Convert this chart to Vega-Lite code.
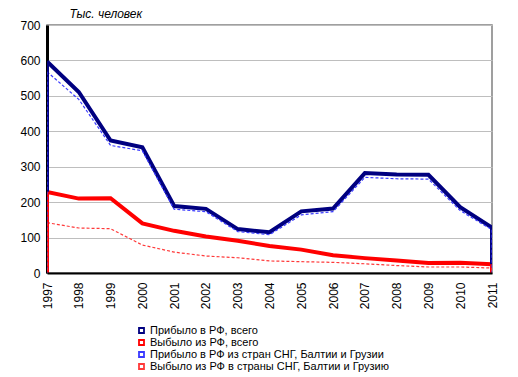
{
  "$schema": "https://vega.github.io/schema/vega-lite/v6.json",
  "autosize": "none",
  "width": 445,
  "height": 248,
  "padding": {"left": 47, "top": 25, "right": 26, "bottom": 104},
  "background": "white",
  "config": {
    "font": "Liberation Sans",
    "view": {"stroke": "#808080", "strokeWidth": 1.5}
  },
  "data": {
    "values": [
      {"year": 1997, "series": "Прибыло в РФ, всего", "value": 597},
      {"year": 1998, "series": "Прибыло в РФ, всего", "value": 511},
      {"year": 1999, "series": "Прибыло в РФ, всего", "value": 374},
      {"year": 2000, "series": "Прибыло в РФ, всего", "value": 355},
      {"year": 2001, "series": "Прибыло в РФ, всего", "value": 189},
      {"year": 2002, "series": "Прибыло в РФ, всего", "value": 181},
      {"year": 2003, "series": "Прибыло в РФ, всего", "value": 124},
      {"year": 2004, "series": "Прибыло в РФ, всего", "value": 115},
      {"year": 2005, "series": "Прибыло в РФ, всего", "value": 174},
      {"year": 2006, "series": "Прибыло в РФ, всего", "value": 182},
      {"year": 2007, "series": "Прибыло в РФ, всего", "value": 282},
      {"year": 2008, "series": "Прибыло в РФ, всего", "value": 278},
      {"year": 2009, "series": "Прибыло в РФ, всего", "value": 277},
      {"year": 2010, "series": "Прибыло в РФ, всего", "value": 186},
      {"year": 2011, "series": "Прибыло в РФ, всего", "value": 128},
      {"year": 1997, "series": "Выбыло из РФ, всего", "value": 229},
      {"year": 1998, "series": "Выбыло из РФ, всего", "value": 210},
      {"year": 1999, "series": "Выбыло из РФ, всего", "value": 211},
      {"year": 2000, "series": "Выбыло из РФ, всего", "value": 140},
      {"year": 2001, "series": "Выбыло из РФ, всего", "value": 119},
      {"year": 2002, "series": "Выбыло из РФ, всего", "value": 103},
      {"year": 2003, "series": "Выбыло из РФ, всего", "value": 91},
      {"year": 2004, "series": "Выбыло из РФ, всего", "value": 76},
      {"year": 2005, "series": "Выбыло из РФ, всего", "value": 66},
      {"year": 2006, "series": "Выбыло из РФ, всего", "value": 50},
      {"year": 2007, "series": "Выбыло из РФ, всего", "value": 42},
      {"year": 2008, "series": "Выбыло из РФ, всего", "value": 35},
      {"year": 2009, "series": "Выбыло из РФ, всего", "value": 28},
      {"year": 2010, "series": "Выбыло из РФ, всего", "value": 29},
      {"year": 2011, "series": "Выбыло из РФ, всего", "value": 25},
      {"year": 1997, "series": "Прибыло в РФ из стран СНГ, Балтии и Грузии", "value": 568},
      {"year": 1998, "series": "Прибыло в РФ из стран СНГ, Балтии и Грузии", "value": 490},
      {"year": 1999, "series": "Прибыло в РФ из стран СНГ, Балтии и Грузии", "value": 360},
      {"year": 2000, "series": "Прибыло в РФ из стран СНГ, Балтии и Грузии", "value": 345},
      {"year": 2001, "series": "Прибыло в РФ из стран СНГ, Балтии и Грузии", "value": 180},
      {"year": 2002, "series": "Прибыло в РФ из стран СНГ, Балтии и Грузии", "value": 173},
      {"year": 2003, "series": "Прибыло в РФ из стран СНГ, Балтии и Грузии", "value": 117},
      {"year": 2004, "series": "Прибыло в РФ из стран СНГ, Балтии и Грузии", "value": 108},
      {"year": 2005, "series": "Прибыло в РФ из стран СНГ, Балтии и Грузии", "value": 164},
      {"year": 2006, "series": "Прибыло в РФ из стран СНГ, Балтии и Грузии", "value": 173},
      {"year": 2007, "series": "Прибыло в РФ из стран СНГ, Балтии и Грузии", "value": 270},
      {"year": 2008, "series": "Прибыло в РФ из стран СНГ, Балтии и Грузии", "value": 266},
      {"year": 2009, "series": "Прибыло в РФ из стран СНГ, Балтии и Грузии", "value": 265},
      {"year": 2010, "series": "Прибыло в РФ из стран СНГ, Балтии и Грузии", "value": 176},
      {"year": 2011, "series": "Прибыло в РФ из стран СНГ, Балтии и Грузии", "value": 122},
      {"year": 1997, "series": "Выбыло из РФ в страны СНГ, Балтии и Грузию", "value": 142},
      {"year": 1998, "series": "Выбыло из РФ в страны СНГ, Балтии и Грузию", "value": 127},
      {"year": 1999, "series": "Выбыло из РФ в страны СНГ, Балтии и Грузию", "value": 125},
      {"year": 2000, "series": "Выбыло из РФ в страны СНГ, Балтии и Грузию", "value": 79},
      {"year": 2001, "series": "Выбыло из РФ в страны СНГ, Балтии и Грузию", "value": 59},
      {"year": 2002, "series": "Выбыло из РФ в страны СНГ, Балтии и Грузию", "value": 48},
      {"year": 2003, "series": "Выбыло из РФ в страны СНГ, Балтии и Грузию", "value": 43},
      {"year": 2004, "series": "Выбыло из РФ в страны СНГ, Балтии и Грузию", "value": 34},
      {"year": 2005, "series": "Выбыло из РФ в страны СНГ, Балтии и Грузию", "value": 32},
      {"year": 2006, "series": "Выбыло из РФ в страны СНГ, Балтии и Грузию", "value": 30},
      {"year": 2007, "series": "Выбыло из РФ в страны СНГ, Балтии и Грузию", "value": 26},
      {"year": 2008, "series": "Выбыло из РФ в страны СНГ, Балтии и Грузию", "value": 21},
      {"year": 2009, "series": "Выбыло из РФ в страны СНГ, Балтии и Грузию", "value": 17},
      {"year": 2010, "series": "Выбыло из РФ в страны СНГ, Балтии и Грузию", "value": 17},
      {"year": 2011, "series": "Выбыло из РФ в страны СНГ, Балтии и Грузию", "value": 14}
    ]
  },
  "encoding": {
    "x": {
      "field": "year",
      "type": "quantitative",
      "scale": {"domain": [1997, 2011], "nice": false, "zero": false},
      "axis": {
        "values": [1997, 1998, 1999, 2000, 2001, 2002, 2003, 2004, 2005, 2006, 2007, 2008, 2009, 2010, 2011],
        "format": "d",
        "title": null,
        "grid": false,
        "ticks": false,
        "labelAngle": 270,
        "labelAlign": "right",
        "labelBaseline": "middle",
        "labelPadding": 9,
        "labelFontSize": 12,
        "labelColor": "black",
        "labelFont": "Liberation Sans",
        "domainColor": "black",
        "domainWidth": 2,
        "labelOverlap": false,
        "labelFlush": false,
        "zindex": 1
      }
    },
    "y": {
      "field": "value",
      "type": "quantitative",
      "stack": null,
      "scale": {"domain": [0, 700], "nice": false},
      "axis": {
        "values": [0, 100, 200, 300, 400, 500, 600, 700],
        "title": "Тыс. человек",
        "titleAngle": 0,
        "titleX": 22,
        "titleY": -12,
        "titleAlign": "left",
        "titleBaseline": "middle",
        "titleFontStyle": "italic",
        "titleFontWeight": "normal",
        "titleFontSize": 12,
        "titleFont": "Liberation Sans",
        "titleColor": "black",
        "grid": true,
        "gridColor": "#BEBEBE",
        "gridWidth": 1,
        "ticks": false,
        "labelPadding": 7,
        "labelFontSize": 12,
        "labelColor": "black",
        "labelFont": "Liberation Sans",
        "domainColor": "black",
        "domainWidth": 3,
        "zindex": 0
      }
    },
    "stroke": {
      "field": "series",
      "type": "nominal",
      "scale": {
        "domain": ["Прибыло в РФ, всего", "Выбыло из РФ, всего", "Прибыло в РФ из стран СНГ, Балтии и Грузии", "Выбыло из РФ в страны СНГ, Балтии и Грузию"],
        "range": ["#000080", "#FF0000", "#3A3AFF", "#FF3A3A"]
      },
      "legend": {
        "title": null,
        "orient": "none",
        "legendX": 89,
        "legendY": 300,
        "symbolType": "square",
        "symbolSize": 25,
        "symbolStrokeWidth": 1.8,
        "symbolFillColor": "white",
        "labelFontSize": 11,
        "labelFont": "Liberation Sans",
        "labelColor": "black",
        "labelLimit": 400,
        "labelOffset": 3,
        "rowPadding": -2,
        "padding": 0
      }
    }
  },
  "layer": [
    {
      "transform": [{"filter": "datum.series === 'Прибыло в РФ, всего'"}],
      "mark": {"type": "line", "strokeWidth": 4, "clip": true}
    },
    {
      "transform": [{"filter": "datum.series === 'Выбыло из РФ, всего'"}],
      "mark": {"type": "line", "strokeWidth": 4, "clip": true}
    },
    {
      "transform": [{"filter": "datum.series === 'Прибыло в РФ из стран СНГ, Балтии и Грузии'"}],
      "mark": {"type": "line", "strokeWidth": 1.2, "strokeDash": [3, 2], "clip": true}
    },
    {
      "transform": [{"filter": "datum.series === 'Выбыло из РФ в страны СНГ, Балтии и Грузию'"}],
      "mark": {"type": "line", "strokeWidth": 1.2, "strokeDash": [3, 2], "clip": true}
    },
    {
      "transform": [{"filter": "(datum.year === 1997 || datum.year === 2011) && (datum.series === 'Прибыло в РФ, всего' || datum.series === 'Выбыло из РФ, всего')"}],
      "mark": {"type": "rule", "strokeWidth": 4, "clip": true},
      "encoding": {"y2": {"datum": 0}}
    },
    {
      "transform": [{"filter": "(datum.year === 1997 || datum.year === 2011) && !(datum.series === 'Прибыло в РФ, всего' || datum.series === 'Выбыло из РФ, всего')"}],
      "mark": {"type": "rule", "strokeWidth": 1.2, "strokeDash": [3, 2], "clip": true},
      "encoding": {"y2": {"datum": 0}}
    }
  ]
}
